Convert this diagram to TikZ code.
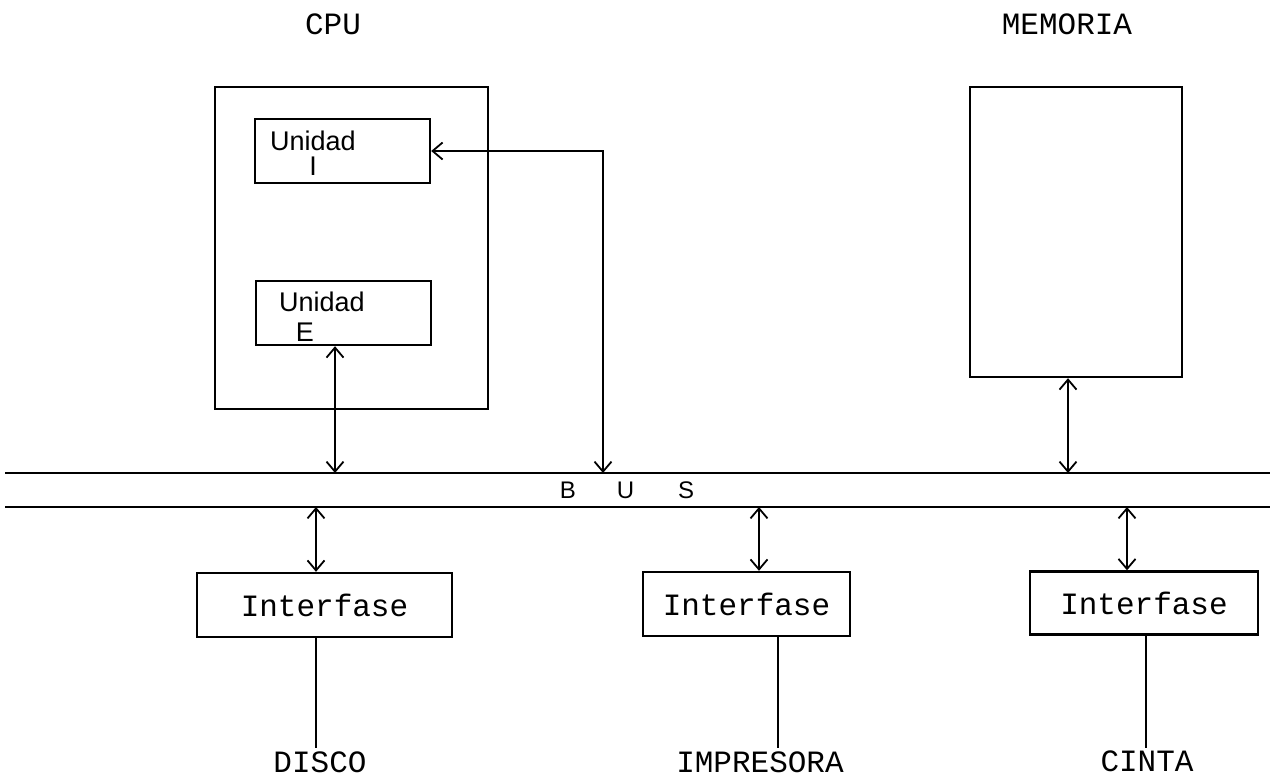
\documentclass[tikz,border=0pt]{standalone}
\usepackage{fontspec}
\usepackage{tikz}
\usetikzlibrary{arrows.meta,positioning,calc}
\newfontfamily\typefont{Liberation Mono}
\newfontfamily\handfont{Liberation Sans}

\begin{document}
\begin{tikzpicture}[x=1pt, y=-1pt,
    box/.style={draw, line width=2.4pt, inner sep=0pt},
    tlabel/.style={font=\typefont\fontsize{31}{31}\selectfont, inner sep=0pt},
    hlabel/.style={font=\handfont\fontsize{27}{27}\selectfont, inner sep=0pt, anchor=base},
    link/.style={line width=1.6pt},
    dbl/.style={link, {Straight Barb[length=10pt,width=17pt,line width=1.8pt]}-{Straight Barb[length=10pt,width=17pt,line width=1.8pt]}}]
    \useasboundingbox (0,0) rectangle (1270,779);
    % Titles
    \node[tlabel] (cpulbl) at (333,24) {CPU};
    \node[tlabel] (memlbl) at (1067,24) {MEMORIA};
    % CPU and its units
    \node[box, minimum width=273pt, minimum height=322pt] (cpu) at (351.5,248) {};
    \node[box, minimum width=175pt, minimum height=64pt] (ui) at (342.5,151) {};
    \node[hlabel] (uitxt) at (313,150) {Unidad};
    \node[hlabel] (uiletter) at (313,175) {I};
    \node[box, minimum width=175pt, minimum height=64pt] (ue) at (343.5,313) {};
    \node[hlabel] (uetxt) at (322,311) {Unidad};
    \node[hlabel] (ueletter) at (305,341) {E};
    % Memory
    \node[box, minimum width=212pt, minimum height=290pt] (mem) at (1076,232) {};
    % Bus
    \coordinate (busTL) at (5,473);
    \coordinate (busTR) at (1270,473);
    \coordinate (busBL) at (5,507);
    \coordinate (busBR) at (1270,507);
    \draw[box] (busTL) -- (busTR);
    \draw[box] (busBL) -- (busBR);
    \node[font=\handfont\fontsize{24}{24}\selectfont, inner sep=0pt] (buslbl) at (627,490) {B\hspace{41pt}U\hspace{44pt}S};
    % Interfaces
    \node[box, tlabel, minimum width=255pt, minimum height=64pt] (if1) at (324.5,605) {Interfase};
    \node[box, tlabel, minimum width=207pt, minimum height=64pt] (if2) at (746.5,604) {Interfase};
    \node[box, tlabel, minimum width=228pt, minimum height=63pt] (if3) at (1144,603) {Interfase};
    % Devices
    \node[tlabel, anchor=base] (disco) at (320,772) {DISCO};
    \node[tlabel, anchor=base] (impr) at (760,772) {IMPRESORA};
    \node[tlabel, anchor=base] (cinta) at (1147,771) {CINTA};
    \coordinate (devline) at (0,748);
    % Connections to the bus
    \draw[dbl] ([xshift=-8.5pt]ue.south) -- ([xshift=-8.5pt]ue.south |- busTL);
    \draw[dbl] (ui.east) -| (603,473);
    \draw[dbl] ([xshift=-8pt]mem.south) -- ([xshift=-8pt]mem.south |- busTL);
    \draw[dbl] ([xshift=-8.5pt]if1.north |- busBL) -- ([xshift=-8.5pt]if1.north);
    \draw[dbl] ([xshift=12.5pt]if2.north |- busBL) -- ([xshift=12.5pt]if2.north);
    \draw[dbl] ([xshift=-17pt]if3.north |- busBL) -- ([xshift=-17pt]if3.north);
    % Lines to the devices
    \draw[link] ([xshift=-8.5pt]if1.south) -- ([xshift=-8.5pt]if1.south |- devline);
    \draw[link] ([xshift=31.5pt]if2.south) -- ([xshift=31.5pt]if2.south |- devline);
    \draw[link] ([xshift=2pt]if3.south) -- ([xshift=2pt]if3.south |- devline);
\end{tikzpicture}
\end{document}
